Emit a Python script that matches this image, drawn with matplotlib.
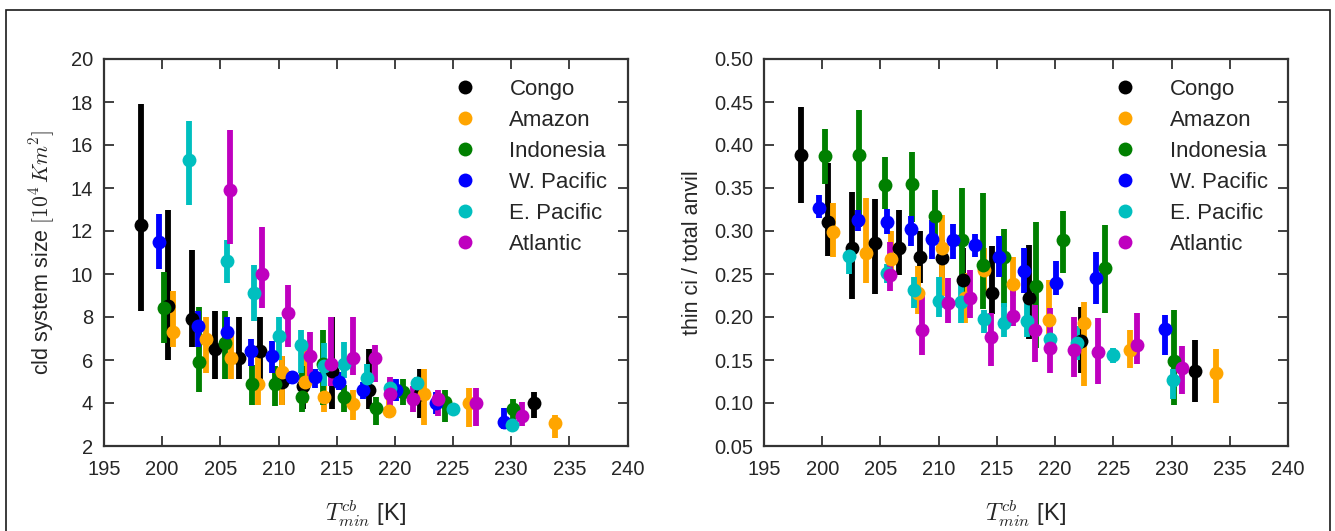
import matplotlib
matplotlib.use("Agg")
import matplotlib.pyplot as plt
from matplotlib.lines import Line2D
from matplotlib.patches import Rectangle
import numpy as np

plt.rcParams['font.family'] = ['Liberation Sans', 'DejaVu Sans']
plt.rcParams['mathtext.fontset'] = 'cm'
plt.rcParams['text.color'] = '#262626'
plt.rcParams['axes.labelcolor'] = '#262626'
plt.rcParams['xtick.color'] = '#262626'
plt.rcParams['ytick.color'] = '#262626'

regions = ['Congo', 'Amazon', 'Indonesia', 'W. Pacific', 'E. Pacific', 'Atlantic']
colors = ['k', 'orange', 'green', 'blue', 'c', 'm']

# temperature bins (K) per region
t_congo = [198.2, 200.5, 202.6, 204.5, 206.6, 208.4, 210.3, 212.1, 214.6, 217.8, 222.2, 232.0]
t_amazon = [200.9, 203.8, 205.9, 208.2, 210.3, 212.3, 213.9, 216.4, 219.5, 222.5, 226.4, 233.8]
t_indonesia = [200.2, 203.2, 205.4, 207.7, 209.7, 212.0, 213.8, 215.6, 218.4, 220.7, 224.3, 230.2]
t_wpacific = [199.7, 203.1, 205.6, 207.6, 209.4, 211.2, 213.1, 215.2, 217.3, 220.1, 223.5, 229.4]
t_epacific = [202.3, 205.6, 207.9, 210.0, 211.9, 213.9, 215.6, 217.6, 219.6, 221.9, 225.0, 230.1]
t_atlantic = [205.8, 208.6, 210.8, 212.7, 214.5, 216.4, 218.3, 219.6, 221.6, 223.7, 227.0, 230.9]

# cloud system size [1e4 km^2]: value, lower, upper
size_congo = [12.3, 8.5, 7.9, 6.5, 6.1, 6.4, 5.0, 4.8, 5.5, 4.6, 4.4, 4.0]
size_congo_lo = [8.3, 6.0, 6.6, 5.1, 5.1, 4.8, 3.9, 3.7, 3.7, 3.7, 3.3, 3.3]
size_congo_hi = [17.9, 13.0, 11.1, 8.3, 8.0, 8.0, 6.2, 5.9, 8.0, 6.5, 5.6, 4.5]
size_amazon = [7.3, 7.0, 6.1, 4.9, 5.45, 5.0, 4.3, 3.95, 3.65, 4.4, 4.0, 3.05]
size_amazon_lo = [6.6, 5.4, 5.1, 3.9, 3.9, 4.0, 3.6, 3.2, 3.3, 3.0, 2.9, 2.35]
size_amazon_hi = [9.2, 8.0, 7.4, 6.2, 6.2, 6.8, 5.4, 4.6, 4.6, 5.6, 4.7, 3.45]
size_indonesia = [8.4, 5.9, 6.8, 4.9, 4.9, 4.3, 5.8, 4.3, 3.75, 4.5, 4.05, 3.7]
size_indonesia_lo = [6.8, 4.5, 5.1, 3.9, 3.85, 3.6, 3.9, 3.6, 3.0, 3.9, 3.1, 2.95]
size_indonesia_hi = [10.1, 8.45, 8.3, 5.75, 5.7, 5.7, 7.4, 4.85, 4.3, 5.1, 4.6, 4.2]
size_wpacific = [11.5, 7.6, 7.3, 6.4, 6.2, 5.2, 5.2, 5.0, 4.6, 4.6, 4.0, 3.1]
size_wpacific_lo = [10.25, 6.6, 6.6, 5.7, 5.4, 4.9, 4.7, 4.6, 4.2, 4.1, 3.5, 2.8]
size_wpacific_hi = [12.8, 8.3, 8.0, 7.0, 6.9, 5.5, 5.6, 5.45, 5.0, 5.1, 4.5, 3.75]
size_epacific = [15.3, 10.6, 9.1, 7.1, 6.7, 5.7, 5.8, 5.15, 4.7, 4.95, 3.7, 3.0]
size_epacific_lo = [13.2, 9.6, 7.8, 6.0, 5.4, 4.8, 5.15, 4.8, 4.3, 4.5, 3.5, 2.7]
size_epacific_hi = [17.1, 11.6, 10.4, 8.0, 7.4, 6.8, 6.85, 5.8, 5.1, 5.2, 3.9, 3.25]
size_atlantic = [13.9, 10.0, 8.2, 6.2, 5.8, 6.1, 6.1, 4.4, 4.2, 4.2, 4.0, 3.4]
size_atlantic_lo = [11.4, 8.4, 6.6, 5.1, 4.8, 5.3, 5.0, 3.5, 3.6, 3.4, 2.95, 2.95]
size_atlantic_hi = [16.7, 12.2, 9.5, 7.3, 8.0, 8.0, 6.7, 5.2, 4.8, 4.6, 4.7, 4.05]

# thin cirrus / total anvil: value, lower, upper
thin_congo = [0.388, 0.31, 0.280, 0.286, 0.280, 0.270, 0.269, 0.243, 0.228, 0.222, 0.172, 0.137]
thin_congo_lo = [0.332, 0.271, 0.221, 0.227, 0.249, 0.240, 0.245, 0.215, 0.203, 0.174, 0.135, 0.101]
thin_congo_hi = [0.444, 0.379, 0.345, 0.337, 0.325, 0.300, 0.290, 0.280, 0.282, 0.284, 0.212, 0.173]
thin_amazon = [0.299, 0.274, 0.267, 0.228, 0.280, 0.222, 0.255, 0.238, 0.197, 0.193, 0.162, 0.135]
thin_amazon_lo = [0.270, 0.240, 0.243, 0.203, 0.224, 0.193, 0.230, 0.224, 0.174, 0.120, 0.141, 0.100]
thin_amazon_hi = [0.332, 0.338, 0.300, 0.259, 0.319, 0.251, 0.280, 0.270, 0.243, 0.218, 0.185, 0.163]
thin_indonesia = [0.387, 0.388, 0.354, 0.355, 0.317, 0.290, 0.261, 0.270, 0.236, 0.290, 0.257, 0.149]
thin_indonesia_lo = [0.355, 0.305, 0.326, 0.311, 0.286, 0.216, 0.209, 0.212, 0.164, 0.251, 0.205, 0.098]
thin_indonesia_hi = [0.419, 0.441, 0.386, 0.392, 0.348, 0.350, 0.344, 0.302, 0.310, 0.323, 0.307, 0.208]
thin_wpacific = [0.327, 0.313, 0.311, 0.302, 0.291, 0.290, 0.284, 0.270, 0.253, 0.239, 0.245, 0.186]
thin_wpacific_lo = [0.315, 0.300, 0.296, 0.282, 0.268, 0.268, 0.270, 0.247, 0.228, 0.226, 0.215, 0.156]
thin_wpacific_hi = [0.342, 0.325, 0.326, 0.318, 0.313, 0.308, 0.297, 0.294, 0.280, 0.265, 0.275, 0.202]
thin_epacific = [0.271, 0.251, 0.231, 0.219, 0.218, 0.198, 0.193, 0.195, 0.174, 0.170, 0.156, 0.127]
thin_epacific_lo = [0.250, 0.240, 0.210, 0.200, 0.193, 0.181, 0.177, 0.177, 0.156, 0.150, 0.146, 0.105]
thin_epacific_hi = [0.282, 0.262, 0.247, 0.247, 0.247, 0.208, 0.216, 0.222, 0.185, 0.190, 0.164, 0.140]
thin_atlantic = [0.249, 0.185, 0.216, 0.222, 0.177, 0.201, 0.185, 0.164, 0.162, 0.159, 0.168, 0.141]
thin_atlantic_lo = [0.230, 0.156, 0.193, 0.199, 0.143, 0.189, 0.148, 0.135, 0.130, 0.122, 0.145, 0.111]
thin_atlantic_hi = [0.287, 0.226, 0.245, 0.255, 0.205, 0.241, 0.214, 0.210, 0.200, 0.199, 0.205, 0.166]

temps = [t_congo, t_amazon, t_indonesia, t_wpacific, t_epacific, t_atlantic]
size_v = [size_congo, size_amazon, size_indonesia, size_wpacific, size_epacific, size_atlantic]
size_lo = [size_congo_lo, size_amazon_lo, size_indonesia_lo, size_wpacific_lo, size_epacific_lo, size_atlantic_lo]
size_hi = [size_congo_hi, size_amazon_hi, size_indonesia_hi, size_wpacific_hi, size_epacific_hi, size_atlantic_hi]
thin_v = [thin_congo, thin_amazon, thin_indonesia, thin_wpacific, thin_epacific, thin_atlantic]
thin_lo = [thin_congo_lo, thin_amazon_lo, thin_indonesia_lo, thin_wpacific_lo, thin_epacific_lo, thin_atlantic_lo]
thin_hi = [thin_congo_hi, thin_amazon_hi, thin_indonesia_hi, thin_wpacific_hi, thin_epacific_hi, thin_atlantic_hi]

W, H = 1335, 531
fig = plt.figure(figsize=(W / 100, H / 100), dpi=100)
ax1 = fig.add_axes([104 / W, 85 / H, 523.5 / W, 387 / H])
ax2 = fig.add_axes([764 / W, 85 / H, 524 / W, 387 / H])

def draw(ax, vals, los, his):
    for t, v, lo, hi, c in zip(temps, vals, los, his, colors):
        v = np.array(v); lo = np.array(lo); hi = np.array(hi)
        err = np.vstack([np.clip(v - lo, 0, None), np.clip(hi - v, 0, None)])
        ax.errorbar(t, v, yerr=err, fmt='o', color=c, ms=10, elinewidth=4.2,
                    capsize=0, mec=c, mew=0)

draw(ax1, size_v, size_lo, size_hi)
draw(ax2, thin_v, thin_lo, thin_hi)

xlabel = r'$T^{cb}_{min}$ [K]'
for ax in (ax1, ax2):
    ax.set_xlim(195, 240)
    ax.set_xticks(np.arange(195, 241, 5))
    ax.tick_params(direction='in', length=7, width=1.3, top=True, right=True,
                   labelsize=14.5, color='#333333')
    ax.tick_params(axis='x', pad=10)
    ax.tick_params(axis='y', pad=8)
    for s in ax.spines.values():
        s.set_linewidth(1.6)
        s.set_color('#333333')
    ax.set_xlabel(xlabel, fontsize=17, labelpad=14)
    handles = [Line2D([], [], ls='none', marker='o', ms=10, color=c, mew=0) for c in colors]
    ax.legend(handles, regions, loc='upper right', frameon=False, fontsize=16,
              numpoints=1, labelspacing=0.45, handletextpad=1.0)

ax1.set_ylim(2, 20)
ax1.set_yticks(np.arange(2, 21, 2))
ax1.set_ylabel(r'cld system size $[10^4\, Km^2]$', fontsize=15.5, labelpad=10)

ax2.set_ylim(0.05, 0.50)
ax2.set_yticks(np.arange(0.05, 0.501, 0.05))
ax2.set_yticklabels([f'{v:.2f}' for v in np.arange(0.05, 0.501, 0.05)])
ax2.set_ylabel('thin ci / total anvil', fontsize=15.5, labelpad=8)

# surrounding frame of the original figure
fig.patches.append(Rectangle((6 / W, -0.2), (1330 - 6) / W, (H - 10) / H + 0.2,
                             transform=fig.transFigure, fill=False,
                             edgecolor='#1a1a1a', linewidth=1.2))

fig.savefig('out.png', dpi=100)
